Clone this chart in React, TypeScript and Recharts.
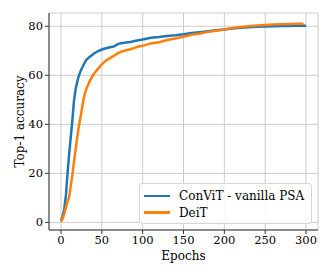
import { LineChart, Line, XAxis, YAxis, CartesianGrid } from "recharts";

// top-1 accuracy per epoch
const CONVIT_EPOCHS = [
  0, 2, 4, 6, 8, 10, 12, 14, 16, 18, 20, 22, 25, 28, 31, 35, 40, 45, 50, 55, 60, 65, 70, 75, 80,
  85, 90, 95, 100, 110, 120, 130, 140, 150, 160, 170, 180, 190, 200, 210, 220, 230, 240, 250, 260,
  270, 280, 290, 300,
];
const CONVIT_ACC = [
  0.5, 2.5, 5.5, 11, 20, 28, 35, 42, 50, 54.5, 57.5, 60, 62.5, 64.5, 66.3, 67.5, 68.8, 69.8, 70.5,
  71, 71.4, 71.8, 72.8, 73.2, 73.4, 73.6, 74, 74.3, 74.6, 75.3, 75.6, 76, 76.3, 76.7, 77.2, 77.6,
  78, 78.4, 78.7, 79.1, 79.4, 79.6, 79.8, 79.9, 80, 80.1, 80.1, 80.2, 80.2,
];
const DEIT_EPOCHS = [
  0, 2, 4, 6, 8, 10, 12, 14, 16, 18, 20, 22, 25, 28, 31, 35, 40, 45, 50, 55, 60, 65, 70, 75, 80,
  85, 90, 95, 100, 110, 120, 130, 140, 150, 160, 170, 180, 190, 200, 210, 220, 230, 240, 250, 260,
  270, 280, 290, 297,
];
const DEIT_ACC = [
  0.3, 1.5, 3.5, 6, 8.5, 10.5, 15, 19.5, 25, 30, 35, 39.5, 45, 51, 54.5, 57.5, 60.5, 62.5, 64.5,
  66, 67, 68, 69, 69.8, 70.2, 70.6, 71.2, 71.7, 72, 73, 73.5, 74.4, 75, 75.7, 76.5, 77, 77.7, 78.2,
  78.7, 79.3, 79.7, 80, 80.3, 80.5, 80.7, 80.8, 80.9, 81, 81,
];

const X_TICKS = [0, 50, 100, 150, 200, 250, 300];
const Y_TICKS = [0, 20, 40, 60, 80];
const SERIES = ["ConViT - vanilla PSA", "DeiT"];
const COLORS = ["#1f77b4", "#ff7f0e"];

const X_DOMAIN = [-14.7, 314.7];
const Y_DOMAIN = [-3.1, 85.4];

const FONT = "'DejaVu Serif', serif";
const AXIS_COLOR = "#333";

const convit = CONVIT_EPOCHS.map((epoch, i) => ({ epoch, acc: CONVIT_ACC[i] }));
const deit = DEIT_EPOCHS.map((epoch, i) => ({ epoch, acc: DEIT_ACC[i] }));

const tickStyle = { fontSize: 11.5, fill: "#000", fontFamily: FONT };

// eslint-disable-next-line @typescript-eslint/no-explicit-any
const YLabel = (props: any) => {
  const vb = props.viewBox;
  const x = vb.x + 24;
  const y = vb.y + vb.height / 2;
  return (
    <text
      x={x}
      y={y}
      transform={`rotate(-90, ${x}, ${y})`}
      textAnchor="middle"
      fontSize={12}
      fontFamily={FONT}
      fill="#000"
    >
      Top-1 accuracy
    </text>
  );
};

// eslint-disable-next-line @typescript-eslint/no-explicit-any
const XLabel = (props: any) => {
  const vb = props.viewBox;
  return (
    <text
      x={vb.x + vb.width / 2}
      y={vb.y + 30}
      textAnchor="middle"
      fontSize={12}
      fontFamily={FONT}
      fill="#000"
    >
      Epochs
    </text>
  );
};

export default function App() {
  return (
    <div style={{ position: "absolute", left: 0, top: 0, width: 332, height: 277, background: "#fff" }}>
      <LineChart width={332} height={277} margin={{ top: 13, right: 14, bottom: 0, left: 0 }}>
        <CartesianGrid stroke="#cccccc" strokeWidth={1} />
        <XAxis
          dataKey="epoch"
          type="number"
          domain={X_DOMAIN}
          ticks={X_TICKS}
          allowDataOverflow
          height={47}
          tickSize={4}
          tickMargin={2}
          tick={tickStyle}
          tickLine={{ stroke: AXIS_COLOR }}
          axisLine={{ stroke: AXIS_COLOR }}
          label={<XLabel />}
        />
        <XAxis
          xAxisId="top"
          orientation="top"
          type="number"
          domain={X_DOMAIN}
          allowDataOverflow
          height={0}
          tick={false}
          tickLine={false}
          axisLine={{ stroke: AXIS_COLOR }}
        />
        <YAxis
          type="number"
          domain={Y_DOMAIN}
          ticks={Y_TICKS}
          allowDataOverflow
          width={49}
          tickSize={4}
          tickMargin={2}
          tick={tickStyle}
          tickLine={{ stroke: AXIS_COLOR }}
          axisLine={{ stroke: AXIS_COLOR }}
          label={<YLabel />}
        />
        <YAxis
          yAxisId="right"
          orientation="right"
          type="number"
          domain={Y_DOMAIN}
          allowDataOverflow
          width={0}
          tick={false}
          tickLine={false}
          axisLine={{ stroke: AXIS_COLOR }}
        />
        <Line
          data={convit}
          dataKey="acc"
          name={SERIES[0]}
          type="linear"
          dot={false}
          stroke={COLORS[0]}
          strokeWidth={2.5}
          isAnimationActive={false}
        />
        <Line
          data={deit}
          dataKey="acc"
          name={SERIES[1]}
          type="linear"
          dot={false}
          stroke={COLORS[1]}
          strokeWidth={2.5}
          isAnimationActive={false}
        />
      </LineChart>
      <div
        style={{
          position: "absolute",
          left: 139,
          top: 183,
          width: 173,
          height: 41,
          boxSizing: "border-box",
          border: "1px solid #d6d6d6",
          borderRadius: 3,
          background: "rgba(255,255,255,0.85)",
          fontFamily: FONT,
          fontSize: 12,
          color: "#000",
        }}
      >
        {SERIES.map((name, i) => (
          <div
            key={name}
            style={{
              position: "absolute",
              left: 4,
              top: 4 + i * 16.5,
              height: 16,
              display: "flex",
              alignItems: "center",
              whiteSpace: "nowrap",
            }}
          >
            <span style={{ display: "inline-block", width: 26, height: 2.5, background: COLORS[i], marginRight: 9 }} />
            {name}
          </div>
        ))}
      </div>
    </div>
  );
}
